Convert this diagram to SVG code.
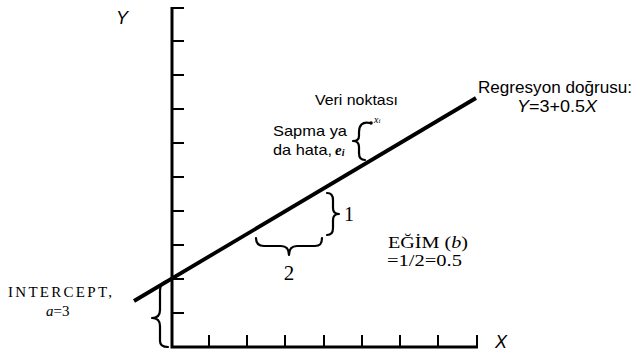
<svg xmlns="http://www.w3.org/2000/svg" width="635" height="354" viewBox="0 0 635 354">
<style>
.ax{stroke:#000;stroke-width:3;fill:none}
.tk{stroke:#000;stroke-width:2;fill:none}
.br{stroke:#000;stroke-width:2.2;fill:none;stroke-linecap:round;stroke-linejoin:round}
.sans{font-family:"Liberation Sans",Arial,sans-serif;fill:#000}
.serif{font-family:"Liberation Serif","Times New Roman",serif;fill:#000}
</style>
<rect width="635" height="354" fill="#fff"/>
<g id="axes">
<path class="ax" d="M172,7 V347 H478"/>
<path class="tk" d="M172,8 H184 M172,41 H184 M172,75 H184 M172,109 H184 M172,143 H184 M172,177 H184 M172,211 H184 M172,245 H184 M172,279 H184 M172,313 H184"/>
<path class="tk" d="M209,347 V335 M247,347 V335 M285,347 V335 M324,347 V335 M362,347 V335 M400,347 V335 M438,347 V335 M477,347 V335"/>
<text class="sans" x="116" y="24" font-size="18" font-style="italic" textLength="12" lengthAdjust="spacingAndGlyphs">Y</text>
<text class="sans" x="495" y="348" font-size="18" font-style="italic" textLength="12" lengthAdjust="spacingAndGlyphs">X</text>
</g>
<g id="connectors">
<line x1="134" y1="301" x2="476" y2="98" stroke="#000" stroke-width="3.8"/>
<path class="br" d="M169,281 C162,281 160,285 160,292 V310 C160,315 157,318 152,318 C157,318 160,321 160,326 V341 C160,345 163,347 168,347"/>
<path class="br" d="M327,193 C332,193 333,196 333,200 V208 C333,212 335,214 339,214 C335,214 333,216 333,220 V228 C333,232 332,235 327,235"/>
<path class="br" d="M256,238 C256,244 259,246 264,246 H281 C285,246 289,248 289,255 C289,248 293,246 297,246 H315 C320,246 322,244 322,238"/>
<path class="br" d="M370,123 C362,121 359,126 359,132 V136 C359,139 357,141 353,141 C357,141 359,143 359,147 V153 C359,158 361,160 365,160"/>
<circle cx="371" cy="123" r="1.8" fill="#000"/>
</g>
<g id="label-regression">
<text class="sans" x="478" y="93" font-size="16" textLength="154" lengthAdjust="spacingAndGlyphs">Regresyon doğrusu:</text>
<text class="sans" x="517" y="112" font-size="16" textLength="80" lengthAdjust="spacingAndGlyphs"><tspan font-style="italic">Y</tspan>=3+0.5<tspan font-style="italic">X</tspan></text>
</g>
<g id="label-data">
<text class="sans" x="315" y="105" font-size="15" textLength="83" lengthAdjust="spacingAndGlyphs">Veri noktası</text>
<text class="serif" x="374" y="123" font-size="10" font-style="italic">x<tspan font-size="7">i</tspan></text>
</g>
<g id="label-error">
<text class="sans" x="273" y="136" font-size="15" textLength="74" lengthAdjust="spacingAndGlyphs">Sapma ya</text>
<text class="sans" x="273" y="155" font-size="15" textLength="59" lengthAdjust="spacingAndGlyphs">da hata,</text>
<text class="serif" x="335" y="155" font-size="15" font-style="italic" font-weight="bold">e<tspan font-size="10" dy="1">i</tspan></text>
</g>
<g id="label-rise">
<text class="serif" x="344" y="221" font-size="20">1</text>
</g>
<g id="label-run">
<text class="serif" x="289" y="280" font-size="21" text-anchor="middle">2</text>
</g>
<g id="label-slope">
<text class="serif" x="388" y="248" font-size="16" textLength="80" lengthAdjust="spacingAndGlyphs">EĞİM (<tspan font-style="italic">b</tspan>)</text>
<text class="serif" x="387" y="266" font-size="16" textLength="75" lengthAdjust="spacingAndGlyphs">=1/2=0.5</text>
</g>
<g id="label-intercept">
<text class="serif" x="8" y="297" font-size="15" textLength="104" lengthAdjust="spacing">INTERCEPT,</text>
<text class="serif" x="46" y="316" font-size="15"><tspan font-style="italic">a</tspan>=3</text>
</g>
</svg>
